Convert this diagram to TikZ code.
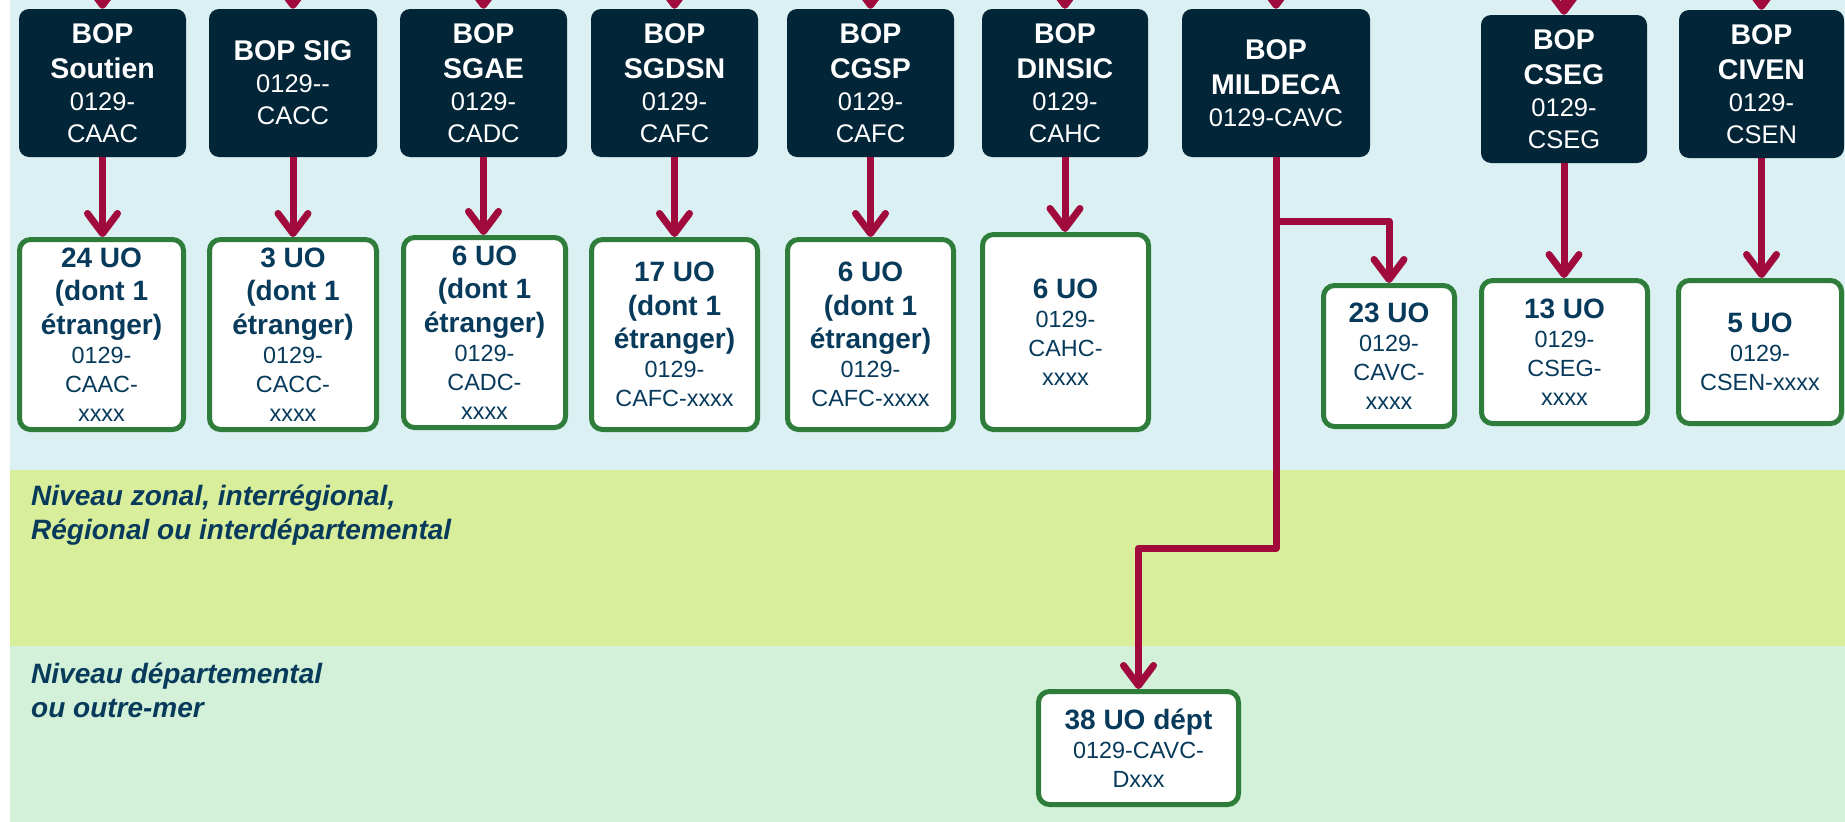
\documentclass[tikz,border=0pt]{standalone}
\usepackage{fontspec}
\setmainfont{Liberation Sans}
\usetikzlibrary{arrows.meta}
\definecolor{bgcyan}{HTML}{DAF0F2}
\definecolor{bgyellow}{HTML}{D9EE9B}
\definecolor{bggreen}{HTML}{D3F1D8}
\definecolor{darkbox}{HTML}{022537}
\definecolor{navytext}{HTML}{073A5B}
\definecolor{uogreen}{HTML}{2E7D3A}
\definecolor{crimson}{HTML}{A00A3C}
\newcommand\boptext[2]{{\fontsize{28.5}{35}\selectfont\bfseries #1\par}{\fontsize{25.5}{32}\selectfont #2\par}}
\newcommand\uotext[2]{{\fontsize{28}{33.5}\selectfont\bfseries #1\par}{\fontsize{23.4}{29}\selectfont #2\par}}
\tikzset{
  bopbox/.style={fill=darkbox, rounded corners=10pt, text=white, inner sep=0pt, align=flush center, minimum height=148pt},
  uobox/.style={draw=uogreen, line width=5pt, fill=white, rounded corners=11pt, text=navytext, inner sep=0pt, align=flush center},
  conn/.style={draw=crimson, line width=7pt, line join=round, -{Straight Barb[length=20pt,width=30pt,round]}},
  lvl/.style={text=navytext, inner sep=0pt, align=flush left, anchor=base west, text width=600pt, font=\fontsize{28}{34}\selectfont\bfseries\itshape}
}
\begin{document}
\begin{tikzpicture}[x=1pt,y=-1pt]
\useasboundingbox (0,0) rectangle (1845,822);
\clip (0,0) rectangle (1845,822);
\fill[white] (0,0) rectangle (1845,822);
\fill[bgcyan] (10,0) rectangle (1845,470);
\fill[bgyellow] (10,470) rectangle (1845,646);
\fill[bggreen] (10,646) rectangle (1845,822);

\node[lvl] (lz) at (31,505) {Niveau zonal, interrégional,\\Régional ou interdépartemental};
\node[lvl] (ld) at (31,683) {Niveau départemental\\ou outre-mer};

% BOP boxes
\node[bopbox, minimum width=167pt, text width=160pt] (d1) at (102.5,83) {\boptext{BOP\\Soutien}{0129-\\CAAC}};
\node[bopbox, minimum width=168pt, text width=160pt] (d2) at (293,83) {\boptext{BOP SIG}{0129-{}-\\CACC}};
\node[bopbox, minimum width=167pt, text width=160pt] (d3) at (483.5,83) {\boptext{BOP\\SGAE}{0129-\\CADC}};
\node[bopbox, minimum width=167pt, text width=160pt] (d4) at (674.5,83) {\boptext{BOP\\SGDSN}{0129-\\CAFC}};
\node[bopbox, minimum width=167pt, text width=160pt] (d5) at (870.5,83) {\boptext{BOP\\CGSP}{0129-\\CAFC}};
\node[bopbox, minimum width=166pt, text width=160pt] (d6) at (1065,83) {\boptext{BOP\\DINSIC}{0129-\\CAHC}};
\node[bopbox, minimum width=188pt, text width=180pt] (d7) at (1276,83) {\boptext{BOP\\MILDECA}{0129-CAVC}};
\node[bopbox, minimum width=166pt, text width=160pt] (d8) at (1564,89) {\boptext{BOP\\CSEG}{0129-\\CSEG}};
\node[bopbox, minimum width=165pt, text width=160pt] (d9) at (1761.5,84) {\boptext{BOP\\CIVEN}{0129-\\CSEN}};

% UO boxes
\node[uobox, minimum width=164pt, minimum height=190pt, text width=158pt] (u1) at (101.5,334.5) {\uotext{24 UO\\(dont 1\\étranger)}{0129-\\CAAC-\\xxxx}};
\node[uobox, minimum width=167pt, minimum height=190pt, text width=158pt] (u2) at (293,334.5) {\uotext{3 UO\\(dont 1\\étranger)}{0129-\\CACC-\\xxxx}};
\node[uobox, minimum width=162pt, minimum height=190pt, text width=156pt] (u3) at (484.5,332.5) {\uotext{6 UO\\(dont 1\\étranger)}{0129-\\CADC-\\xxxx}};
\node[uobox, minimum width=166pt, minimum height=190pt, text width=158pt] (u4) at (674.5,334.5) {\uotext{17 UO\\(dont 1\\étranger)}{0129-\\CAFC-xxxx}};
\node[uobox, minimum width=166pt, minimum height=190pt, text width=158pt] (u5) at (870.5,334.5) {\uotext{6 UO\\(dont 1\\étranger)}{0129-\\CAFC-xxxx}};
\node[uobox, minimum width=166pt, minimum height=195pt, text width=158pt] (u6) at (1065.5,332) {\uotext{6 UO}{0129-\\CAHC-\\xxxx}};
\node[uobox, minimum width=131pt, minimum height=141pt, text width=125pt] (u7) at (1389,356) {\uotext{23 UO}{0129-\\CAVC-\\xxxx}};
\node[uobox, minimum width=166pt, minimum height=143pt, text width=158pt] (u8) at (1564.5,352) {\uotext{13 UO}{0129-\\CSEG-\\xxxx}};
\node[uobox, minimum width=163pt, minimum height=143pt, text width=158pt] (u9) at (1760,352) {\uotext{5 UO}{0129-\\CSEN-xxxx}};
\node[uobox, minimum width=200pt, minimum height=113pt, text width=190pt] (u10) at (1138.5,748) {\uotext{38 UO dépt}{0129-CAVC-\\Dxxx}};

% incoming arrows from above
\foreach \n in {1,...,9} {
  \path (d\n.north) ++(0,-60) coordinate (t\n);
  \draw[conn] (t\n) -- (d\n.north);
}
% BOP -> UO
\foreach \n in {1,2,3,4,5,6,8,9} {
  \draw[conn] (d\n.south) -- (d\n.south |- u\n.north);
}
% MILDECA branches
\coordinate (j1) at (1276,221);
\coordinate (j2) at (1276,548);
\draw[conn] (d7.south) -- (j2) -| (u10.north);
\draw[conn] (j1) -| (u7.north);
\end{tikzpicture}
\end{document}
